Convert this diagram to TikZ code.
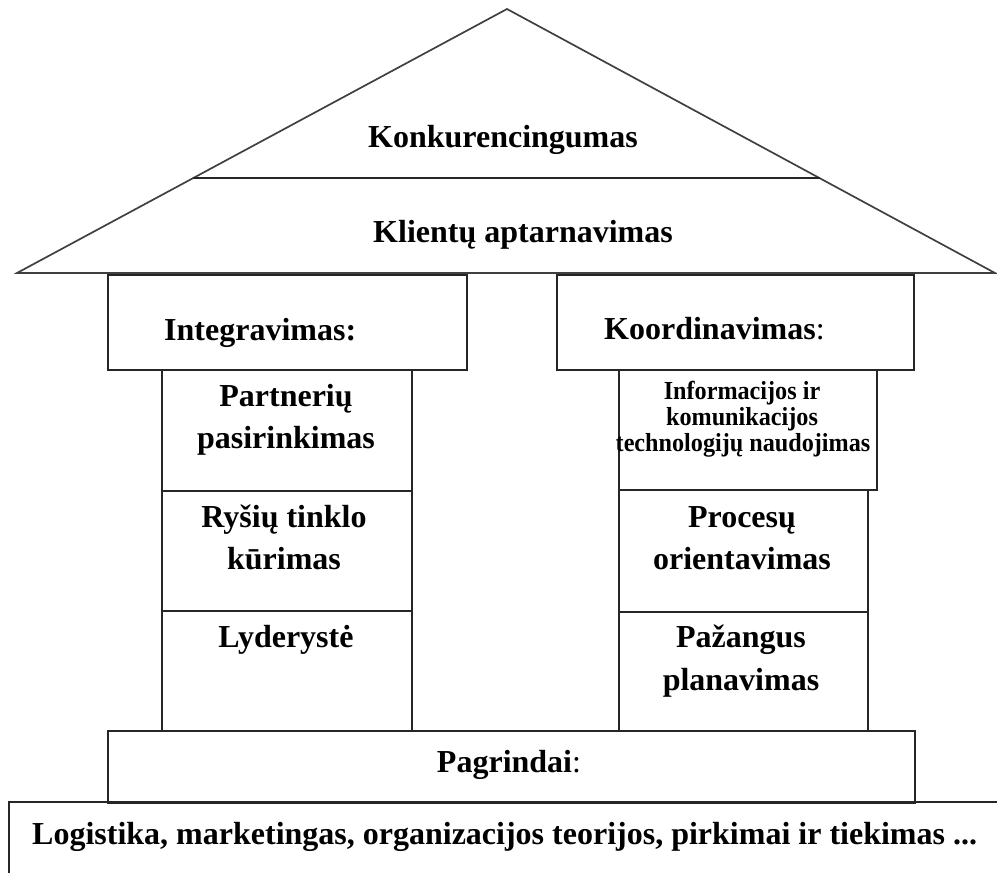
\documentclass[tikz,border=0pt]{standalone}
\usepackage{fontspec}
\setmainfont{Liberation Serif}
\begin{document}
\begin{tikzpicture}[x=1pt,y=-1pt,
  line/.style={draw=black!85,line width=1.7pt,line join=miter},
  box/.style={line,rectangle,inner sep=0pt,anchor=north west},
  label/.style={inner sep=0pt,anchor=base,font=\fontsize{32}{40}\selectfont\bfseries},
  small/.style={inner sep=0pt,anchor=base,font=\fontsize{26}{30}\selectfont\bfseries,xscale=0.93}]
\useasboundingbox (0,0) rectangle (997,873);

% roof
\coordinate (apex) at (507,9);
\coordinate (eaveL) at (17,273);
\coordinate (eaveR) at (995,273);
\coordinate (ridgeL) at (193,178);
\coordinate (ridgeR) at (820,178);
\draw[line,draw=black!75] (eaveL) -- (apex) -- (eaveR) -- cycle;
\draw[line] (ridgeL) -- (ridgeR);

% capitals of the two pillars
\node[box,minimum width=359pt,minimum height=95pt] (integ) at (107,274) {};
\node[box,minimum width=357pt,minimum height=95pt] (koord) at (556,274) {};

% left pillar
\node[box,minimum width=250pt,minimum height=121pt] (l1) at (161,369) {};
\node[box,minimum width=250pt,minimum height=120pt] (l2) at (161,490) {};
\node[box,minimum width=250pt,minimum height=120pt] (l3) at (161,610) {};

% right pillar
\node[box,minimum width=258pt,minimum height=120pt] (r1) at (618,369) {};
\node[box,minimum width=249pt,minimum height=122pt] (r2) at (618,489) {};
\node[box,minimum width=249pt,minimum height=119pt] (r3) at (618,611) {};

% base
\node[box,minimum width=807pt,minimum height=72pt] (base) at (107,730) {};
\coordinate (groundL) at (9,802);
\coordinate (groundR) at (997,802);
\coordinate (groundB) at (9,873);
\draw[line] (groundR) -- (groundL) -- (groundB);

% texts
\node[label] (t1) at (503,147) {Konkurencingumas};
\node[label] (t2) at (523,242) {Klientų aptarnavimas};
\node[label,anchor=base west] (t3) at (164,340) {Integravimas:};
\node[label,anchor=base west] (t4) at (604,339) {Koordinavimas\mdseries:};

\node[label] (t5a) at (286,406) {Partnerių};
\node[label] (t5b) at (286,448) {pasirinkimas};
\node[label] (t6a) at (284,527) {Ryšių tinklo};
\node[label] (t6b) at (284,569) {kūrimas};
\node[label] (t7) at (286,647) {Lyderystė};

\node[small] (t8a) at (742,399) {Informacijos ir};
\node[small] (t8b) at (742,425) {komunikacijos};
\node[small] (t8c) at (743,451) {technologijų naudojimas};
\node[label] (t9a) at (742,527) {Procesų};
\node[label] (t9b) at (742,569) {orientavimas};
\node[label] (t10a) at (741,647) {Pažangus};
\node[label] (t10b) at (741,690) {planavimas};

\node[label] (t11) at (509,772) {Pagrindai\mdseries:};
\node[label,anchor=base west] (t12) at (32,844) {Logistika, marketingas, organizacijos teorijos, pirkimai ir tiekimas ...};
\end{tikzpicture}
\end{document}
